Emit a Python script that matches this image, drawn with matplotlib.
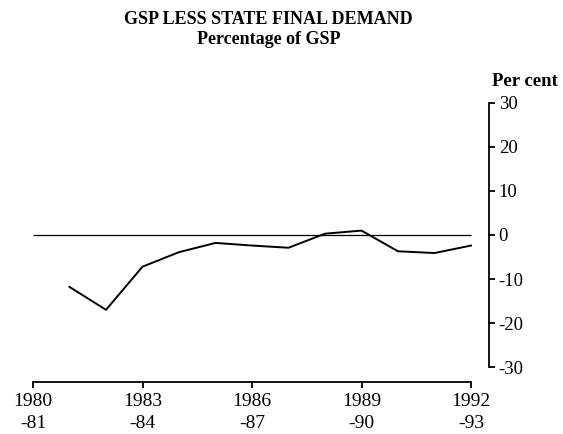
import matplotlib.pyplot as plt

years = [1981, 1982, 1983, 1984, 1985, 1986, 1987, 1988, 1989, 1990, 1991, 1992]
values = [-11.8, -17.0, -7.2, -3.9, -1.8, -2.4, -2.9, 0.3, 1.0, -3.7, -4.1, -2.4]

tick_years = [1980, 1983, 1986, 1989, 1992]
tick_labels = ["1980\n-81", "1983\n-84", "1986\n-87", "1989\n-90", "1992\n-93"]
y_ticks = [-30, -20, -10, 0, 10, 20, 30]

plt.rcParams["font.family"] = "Liberation Serif"

fig = plt.figure(figsize=(5.63, 4.34), dpi=100)
ax = fig.add_axes([33 / 563, 67 / 434, 456 / 563, 264 / 434])

ax.plot(years, values, color="black", lw=1.4)
ax.hlines(0, 1980, 1992, color="black", lw=0.9)

ax.set_xlim(1980, 1980 + 456 / 36.5)
ax.set_ylim(-30, 30)

for side in ["top", "left"]:
    ax.spines[side].set_visible(False)
ax.spines["bottom"].set_bounds(1980, 1992)
ax.spines["bottom"].set_position(("outward", 10.5))
ax.spines["right"].set_bounds(-30, 30)
for side in ["bottom", "right"]:
    ax.spines[side].set_linewidth(1.3)

ax.yaxis.tick_right()
ax.set_yticks(y_ticks)
ax.set_yticklabels([str(v) for v in y_ticks])
ax.set_xticks(tick_years)
ax.set_xticklabels(tick_labels, linespacing=1.4)
ax.tick_params(axis="y", direction="out", length=4, width=1.3, labelsize=13.5, pad=3)
ax.tick_params(axis="x", direction="out", length=4, width=1.3, labelsize=14, pad=4)

fig.text(0.477, 0.955, "GSP LESS STATE FINAL DEMAND", ha="center", va="center",
         fontsize=13, fontweight="bold")
fig.text(0.477, 0.91, "Percentage of GSP", ha="center", va="center",
         fontsize=13, fontweight="bold")
fig.text(525 / 563, 1 - 82 / 434, "Per cent", ha="center", va="center",
         fontsize=13.5, fontweight="bold")

fig.savefig("out.png", dpi=100)
